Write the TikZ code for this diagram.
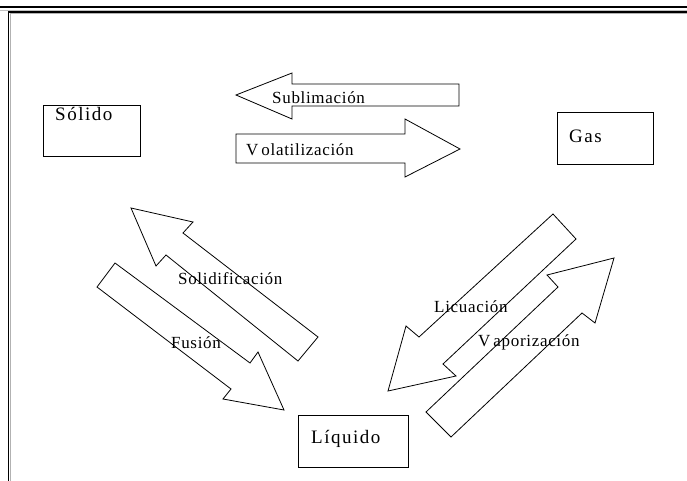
\documentclass[tikz,border=0pt]{standalone}
\usepackage{fontspec}
\setmainfont{Liberation Serif}
\newfontfamily\boxfont[LetterSpace=8]{Liberation Serif}
\newfontfamily\arrfont[LetterSpace=4]{Liberation Serif}
\begin{document}
\begin{tikzpicture}[x=1pt,y=-1pt,
  box/.style={draw=black,line width=1pt,inner sep=0pt},
  boxlbl/.style={inner sep=0pt,anchor=base west,font=\boxfont\fontsize{19}{21}\selectfont},
  arrlbl/.style={inner sep=0pt,anchor=base west,font=\arrfont\fontsize{17}{19}\selectfont},
  blockarrow/.style={draw=black,line width=0.8pt,line join=miter}]
\useasboundingbox (0,0) rectangle (687,481);
% page frame
\draw[line width=2pt] (0,7.5) -- (687,7.5);
\draw[line width=0.8pt,black!25] (0,10.3) -- (687,10.3);
\draw[line width=1.2pt] (8.5,481) -- (8.5,12) -- (687,12);
\draw[line width=0.8pt,black!30] (10,481) -- (10,13.3) -- (687,13.3);
% boxes
\node[box,minimum width=97pt,minimum height=51pt] (solido) at (91.5,131.5) {};
\node[box,minimum width=96pt,minimum height=52pt] (gas) at (605,139) {};
\node[box,minimum width=110pt,minimum height=52pt] (liquido) at (353,441) {};
\node[boxlbl] (solidot) at (55,121) {Sólido};
\node[boxlbl] (gast) at (569,143) {Gas};
\node[boxlbl] (liquidot) at (311,443) {Líquido};
% block arrows
\draw[blockarrow] (236,95) -- (292,73) -- (292,84) -- (459,84) -- (459,106) -- (292,106) -- (292,119) -- cycle;
\draw[blockarrow] (236,134) -- (405,134) -- (405,119) -- (460,149) -- (405,177) -- (405,163) -- (236,163) -- cycle;
\draw[blockarrow] (131,208) -- (193,222) -- (183,233) -- (318,337) -- (298,361) -- (166,255) -- (156,266) -- cycle;
\draw[blockarrow] (115,263) -- (250,363) -- (258,352) -- (284,410) -- (223,399) -- (231,389) -- (97,287) -- cycle;
\draw[blockarrow] (553,214) -- (419,337) -- (406,326) -- (388,391) -- (456,376) -- (443,364) -- (576,239) -- cycle;
\draw[blockarrow] (426,412) -- (558,287) -- (547,275) -- (614,258) -- (595,323) -- (582,313) -- (451,437) -- cycle;
% arrow labels
\node[arrlbl] (subl) at (272,104) {Sublimación};
\node[arrlbl] (vola) at (246,156) {V\kern3pt olatilización};
\node[arrlbl] (soli) at (178,284) {Solidificación};
\node[arrlbl] (fusi) at (171,348) {Fusión};
\node[arrlbl] (licu) at (434,312) {Licuación};
\node[arrlbl] (vapo) at (478,346) {V\kern3pt aporización};
\end{tikzpicture}
\end{document}
